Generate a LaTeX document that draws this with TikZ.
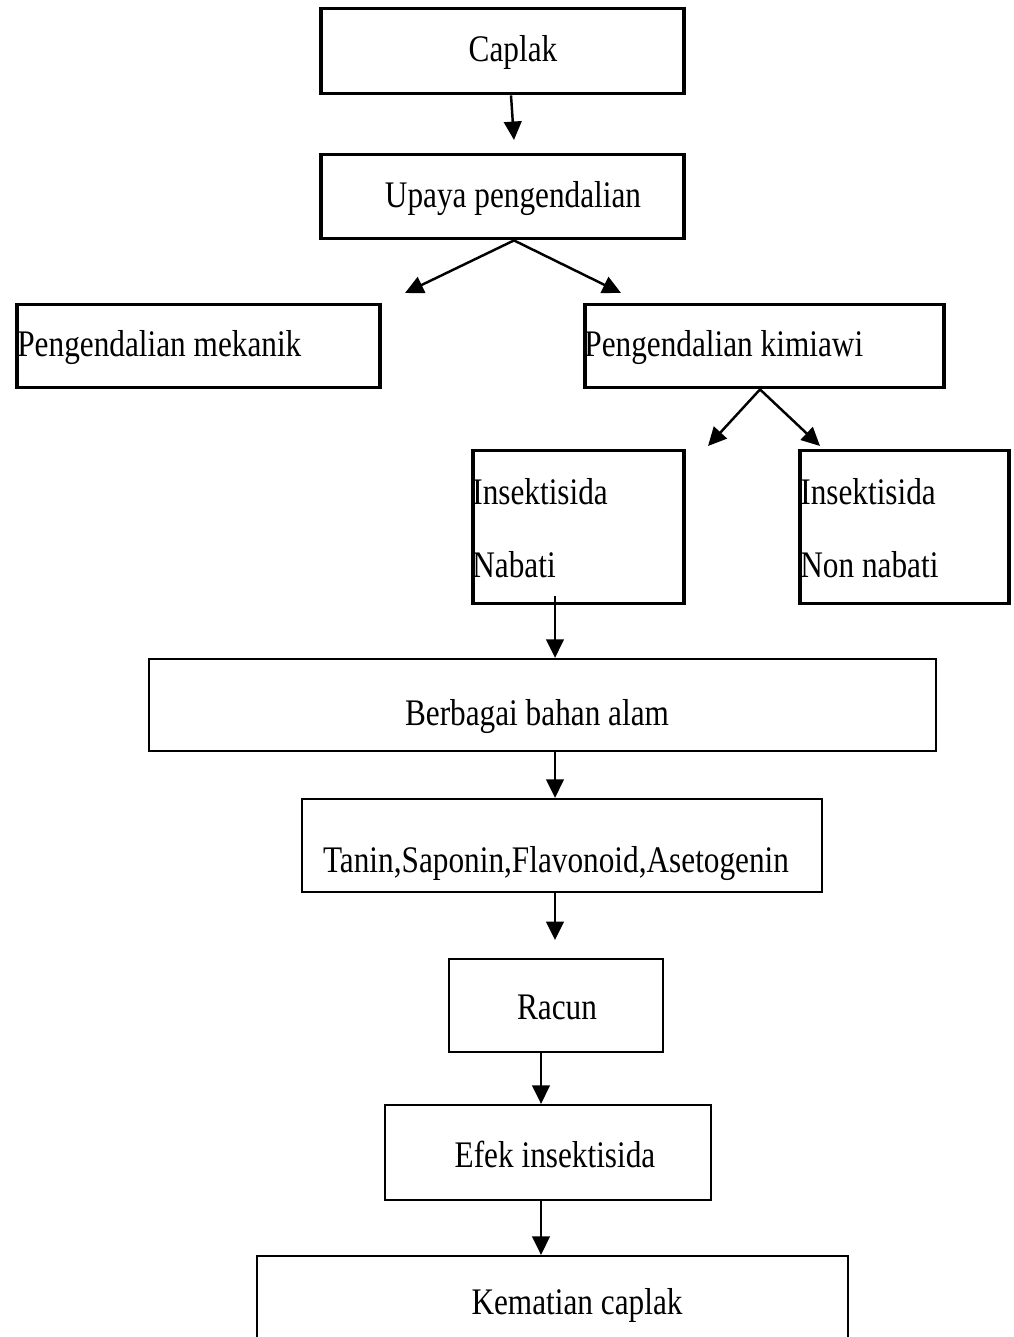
\documentclass[tikz,border=0pt]{standalone}
\usepackage{fontspec}
\setmainfont{Liberation Serif}
\usetikzlibrary{arrows.meta}
\newcommand\vstr[1]{\scalebox{1}[1.2]{#1}}
\begin{document}
\begin{tikzpicture}[x=0.02cm,y=-0.02cm,
 thickbox/.style={draw,line width=2.2pt,rectangle,inner sep=0pt},
 thinbox/.style={draw,line width=1.3pt,rectangle,inner sep=0pt},
 txt/.style={inner sep=0pt,font=\fontsize{17.8}{21}\selectfont},
 arr/.style={line width=1.4pt,-{Triangle[length=10.5pt,width=10pt]}}]
\clip (0,0) rectangle (1013,1337);
\useasboundingbox (0,0) rectangle (1013,1337);

% boxes
\node[thickbox,minimum width=7.26cm,minimum height=1.70cm] (caplak) at (502.5,51) {};
\node[thickbox,minimum width=7.26cm,minimum height=1.68cm] (upaya) at (502.5,196.5) {};
\node[thickbox,minimum width=7.26cm,minimum height=1.66cm] (mekanik) at (198.5,346) {};
\node[thickbox,minimum width=7.18cm,minimum height=1.66cm] (kimiawi) at (764.5,346) {};
\node[thickbox,minimum width=4.22cm,minimum height=3.06cm] (nabati) at (578.5,527) {};
\node[thickbox,minimum width=4.18cm,minimum height=3.06cm] (nonnabati) at (904.5,527) {};
\node[thinbox,minimum width=15.74cm,minimum height=1.84cm] (bahan) at (542.5,705) {};
\node[thinbox,minimum width=10.40cm,minimum height=1.86cm] (tanin) at (562,845.5) {};
\node[thinbox,minimum width=4.28cm,minimum height=1.86cm] (racun) at (556,1005.5) {};
\node[thinbox,minimum width=6.52cm,minimum height=1.90cm] (efek) at (548,1152.5) {};
\node[thinbox,minimum width=11.82cm,minimum height=2.80cm] (kematian) at (552.5,1326) {};

% texts
\node[txt,anchor=base] (tcaplak) at (513,62) {\vstr{Caplak}};
\node[txt,anchor=base] (tupaya) at (513,208) {\vstr{Upaya pengendalian}};
\node[txt,anchor=base west] (tmekanik) at (17,357) {\vstr{Pengendalian mekanik}};
\node[txt,anchor=base west] (tkimiawi) at (584,357) {\vstr{Pengendalian kimiawi}};
\node[txt,anchor=base west] (tnab1) at (472,504) {\vstr{Insektisida}};
\node[txt,anchor=base west] (tnab2) at (472,577) {\vstr{Nabati}};
\node[txt,anchor=base west] (tnon1) at (800,504) {\vstr{Insektisida}};
\node[txt,anchor=base west] (tnon2) at (800,577) {\vstr{Non nabati}};
\node[txt,anchor=base] (tbahan) at (537,725) {\vstr{Berbagai bahan alam}};
\node[txt,anchor=base] (ttanin) at (556,872) {\vstr{Tanin,Saponin,Flavonoid,Asetogenin}};
\node[txt,anchor=base] (tracun) at (557,1019) {\vstr{Racun}};
\node[txt,anchor=base] (tefek) at (555,1167) {\vstr{Efek insektisida}};
\node[txt,anchor=base] (tkematian) at (577,1314) {\vstr{Kematian caplak}};

% connector coordinates
\coordinate (t1) at (514,140);
\coordinate (tl) at (405,293);
\coordinate (tr) at (621,293);
\coordinate (tl2) at (708,446);
\coordinate (tr2) at (820,446);
\coordinate (n5) at (555,596);
\coordinate (c555) at (555,0);
\coordinate (t7) at (555,940);
\coordinate (c541) at (541,0);

% connectors
\draw[arr] ([xshift=0.17cm]caplak.south) -- (t1);
\draw[arr] ([xshift=0.23cm]upaya.south) -- (tl);
\draw[arr] ([xshift=0.23cm]upaya.south) -- (tr);
\draw[arr] ([xshift=-0.09cm]kimiawi.south) -- (tl2);
\draw[arr] ([xshift=-0.09cm]kimiawi.south) -- (tr2);
\draw[arr] (n5) -- (bahan.north -| c555);
\draw[arr] (bahan.south -| c555) -- (tanin.north -| c555);
\draw[arr] (tanin.south -| c555) -- (t7);
\draw[arr] (racun.south -| c541) -- (efek.north -| c541);
\draw[arr] (efek.south -| c541) -- (kematian.north -| c541);
\end{tikzpicture}
\end{document}
